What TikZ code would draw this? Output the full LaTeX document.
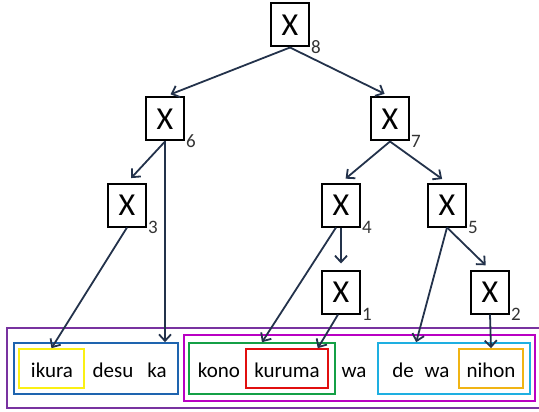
\documentclass[tikz,border=0pt]{standalone}
\usepackage{fontspec}
\setmainfont{Carlito}
\usetikzlibrary{arrows.meta}
\definecolor{arrowblue}{RGB}{35,50,75}
\definecolor{outerpurple}{RGB}{120,50,160}
\definecolor{innermagenta}{RGB}{185,0,195}
\definecolor{boxblue}{RGB}{30,100,175}
\definecolor{boxyellow}{RGB}{250,240,20}
\definecolor{boxgreen}{RGB}{20,160,70}
\definecolor{boxred}{RGB}{225,15,15}
\definecolor{boxcyan}{RGB}{30,175,225}
\definecolor{boxorange}{RGB}{240,180,20}

\begin{document}
\begin{tikzpicture}[x=1pt,y=-1pt,
  x_node/.style={draw,line width=2pt,minimum width=38pt,minimum height=43pt,inner sep=0pt,font=\fontsize{32}{32}\selectfont},
  sub_label/.style={anchor=west,inner sep=1pt,text=black!80,font=\fontsize{19}{19}\selectfont},
  word_node/.style={anchor=base,inner sep=0pt,font=\fontsize{21}{21}\selectfont},
  word_box/.style={draw,line width=1.6pt,inner sep=0pt},
  tree_edge/.style={draw=arrowblue,line width=1.8pt,-{Straight Barb[length=6.5pt,width=12pt]}}]

    \useasboundingbox (0,0) rectangle (539,412);

    % tree
    \node[x_node] (x8) at (290,25)  {X};
    \node[x_node] (x6) at (165,119) {X};
    \node[x_node] (x7) at (390,119) {X};
    \node[x_node] (x3) at (127,205) {X};
    \node[x_node] (x4) at (341,205) {X};
    \node[x_node] (x5) at (447,205) {X};
    \node[x_node] (x1) at (341,292) {X};
    \node[x_node] (x2) at (490,292) {X};

    \node[sub_label] (s8) at (x8.south east) {8};
    \node[sub_label] (s6) at (x6.south east) {6};
    \node[sub_label] (s7) at (x7.south east) {7};
    \node[sub_label] (s3) at (x3.south east) {3};
    \node[sub_label] (s4) at (x4.south east) {4};
    \node[sub_label] (s5) at (x5.south east) {5};
    \node[sub_label] (s1) at (x1.south east) {1};
    \node[sub_label] (s2) at (x2.south east) {2};

    % boxes
    \node[word_box,draw=outerpurple,minimum width=538pt,minimum height=80pt] (outer) at (276,368) {};
    \node[word_box,draw=innermagenta,minimum width=351pt,minimum height=66pt] (inner) at (359.5,368) {};
    \node[word_box,draw=boxblue,minimum width=164pt,minimum height=51pt] (blue) at (96,368.5) {};
    \node[word_box,draw=boxyellow,minimum width=65pt,minimum height=39pt] (yellow) at (51.5,368.5) {};
    \node[word_box,draw=boxgreen,minimum width=146pt,minimum height=51pt] (green) at (262,368.5) {};
    \node[word_box,draw=boxred,minimum width=82pt,minimum height=39pt] (red) at (287,368.5) {};
    \node[word_box,draw=boxcyan,minimum width=152pt,minimum height=51pt] (cyan) at (454,368.5) {};
    \node[word_box,draw=boxorange,minimum width=64pt,minimum height=39pt] (orange) at (491,368.5) {};

    % words
    \node[word_node] (ikura)  at (52,377)  {ikura};
    \node[word_node] (desu)   at (113,377) {desu};
    \node[word_node] (ka)     at (157,377) {ka};
    \node[word_node] (kono)   at (219,377) {kono};
    \node[word_node] (kuruma) at (287,377) {kuruma};
    \node[word_node] (wa1)    at (354,377) {wa};
    \node[word_node] (de)     at (403,377) {de};
    \node[word_node] (wa2)    at (437,377) {wa};
    \node[word_node] (nihon)  at (491,377) {nihon};

    \path[every edge/.style={tree_edge,shorten >=6pt}]
    (x8.south) edge (x6.north)
    (x8.south) edge (x7.north)
    (x6.south) edge (x3.north)
    (x7.south) edge (x4.north)
    (x7.south) edge (x5.north)
    (x4.south) edge (x1.north)
    (x5.south) edge (x2.north);

    \path[every edge/.style={tree_edge}]
    (x3.south) edge (yellow.north)
    (x6.south) edge (x6 |- blue.north)
    ([xshift=-5pt]x4.south) edge (green.north)
    ([xshift=-3pt]x1.south) edge ([xshift=-11pt]red.north east)
    (x5.south) edge ([xshift=39pt]cyan.north west)
    (x2.south) edge (orange.north);
\end{tikzpicture}
\end{document}
